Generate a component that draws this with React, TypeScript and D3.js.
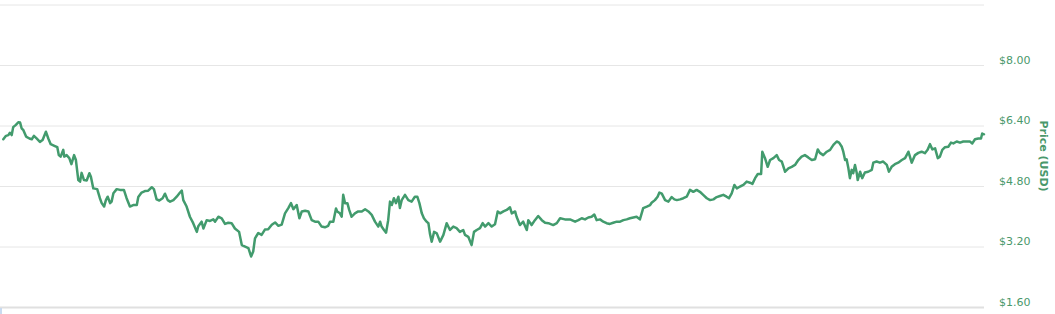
import React from "react";
import * as d3 from "d3";

// Time (days from start of window) of each reading
const days: number[] = [
  1.1, 2, 2.8, 3.3, 3.9, 4.4, 5.3, 6.1, 6.7, 7.2,
  7.8, 8.7, 9.8, 10.6, 11.3, 12.2, 13.3, 14.2, 15.3, 16.1,
  16.9, 18.3, 19.1, 19.6, 20.2, 21.1, 21.4, 22.2, 23.1, 23.8,
  24.7, 25.3, 26.1, 26.7, 27.2, 28, 28.9, 29.8, 30.3, 31.1,
  32.4, 33.3, 33.9, 34.7, 35.3, 35.9, 36.7, 37.2, 37.8, 38.9,
  40, 41.3, 42.2, 43.3, 44.4, 45.6, 46.1, 47.2, 48.3, 49.4,
  50.6, 51.3, 52.2, 53.1, 54.2, 55, 55.9, 56.7, 57.8, 58.9,
  60, 60.6, 61.1, 62.2, 63.3, 64.4, 65.6, 66.1, 67.2, 67.8,
  68.9, 70, 71.1, 71.7, 72.8, 73.9, 75, 76.1, 77.2, 78.3,
  79.7, 80.6, 81.7, 82.8, 83.7, 84.4, 85, 86.1, 87.2, 88.3,
  89.4, 90.6, 91.7, 92.8, 93.9, 95, 96.1, 97, 97.8, 98.9,
  99.8, 100.6, 101.7, 102.8, 103.9, 105, 106.1, 107.2, 108.3, 109.4,
  110, 111.1, 112, 112.4, 113.3, 113.9, 114.4, 115, 115.8, 116.4,
  117.2, 118.3, 119.4, 120.6, 121.7, 122.8, 123.9, 125, 126.1, 126.7,
  127.2, 128, 128.7, 129.4, 130, 130.6, 131.3, 132, 132.8, 133.3,
  133.9, 135, 136.1, 137.2, 138.3, 139.1, 139.8, 140.6, 141.3, 142.2,
  142.8, 143.3, 143.9, 144.7, 145.6, 146.7, 147.8, 148.9, 150, 151.1,
  152.2, 153.3, 154.4, 155, 156.1, 157.2, 158, 158.9, 160, 160.9,
  161.7, 162.8, 163.9, 165, 165.9, 166.7, 167.8, 168.9, 170, 170.6,
  171.7, 172.2, 173.3, 174.4, 175.6, 176.1, 177.2, 178.3, 179.4, 180.6,
  181.7, 182.8, 184.4, 185.6, 186.7, 188.3, 190, 191.7, 192.8, 193.9,
  195, 196.1, 197.2, 198.1, 198.9, 200, 201.1, 202.2, 203.3, 204.4,
  205.6, 206.7, 207.8, 208.9, 210, 211.1, 212.2, 213.3, 214.4, 215.6,
  216.7, 217.2, 218.3, 219.2, 219.8, 220.6, 221.7, 222.8, 223.9, 224.8,
  225.6, 226.7, 227.8, 228.9, 230, 231.1, 232.2, 233.3, 234.4, 235.6,
  236.7, 237.8, 238.9, 240, 241.1, 242.2, 243, 243.9, 244.8, 245.6,
  246.7, 247.8, 248.9, 250, 250.8, 251.7, 252.6, 253.7, 254.1, 255,
  255.9, 256.7, 257.8, 258.9, 259.7, 260.6, 261.7, 262.8, 263.9, 265,
  266.1, 267.2, 268.3, 269.4, 270.6, 271.7, 272.6, 273.3, 274.4, 275.6,
  276.7, 277.8, 278.9, 279.7, 280.6, 281.1, 281.7, 282.2, 282.8, 283.3,
  283.9, 284.4, 285, 285.6, 285.9, 286.7, 287.4, 288.3, 289.4, 290.6,
  291.1, 292.2, 293.3, 294.4, 295.6, 296.3, 297.2, 298.3, 299.4, 300.6,
  301.7, 302.8, 303.9, 305, 306.1, 307.2, 308.3, 309.2, 310, 310.8,
  311.7, 312.6, 313.3, 314.1, 315, 316.1, 317, 317.8, 318.9, 320,
  321.1, 322.2, 323.3, 324.1, 325, 326.1, 327, 327.4, 328,
];

// Price in USD for each reading
const prices: number[] = [
  6.05, 6.14, 6.16, 6.22, 6.16, 6.37, 6.43, 6.50, 6.49, 6.34,
  6.29, 6.12, 6.07, 6.05, 6.14, 6.07, 5.98, 6.03, 6.25, 6.07,
  5.92, 5.87, 5.84, 5.63, 5.59, 5.77, 5.59, 5.63, 5.55, 5.39,
  5.63, 5.50, 4.97, 4.93, 5.16, 4.97, 4.96, 5.15, 5.06, 4.75,
  4.73, 4.49, 4.36, 4.27, 4.44, 4.53, 4.36, 4.40, 4.62, 4.73,
  4.71, 4.71, 4.49, 4.27, 4.31, 4.31, 4.52, 4.64, 4.68, 4.69,
  4.78, 4.73, 4.46, 4.43, 4.49, 4.61, 4.44, 4.40, 4.44, 4.53,
  4.64, 4.69, 4.44, 4.27, 4.00, 3.83, 3.60, 3.75, 3.87, 3.69,
  3.91, 3.89, 3.93, 3.87, 4.00, 3.96, 3.81, 3.84, 3.83, 3.69,
  3.60, 3.25, 3.21, 3.17, 2.95, 3.08, 3.43, 3.57, 3.52, 3.66,
  3.67, 3.79, 3.85, 3.76, 3.79, 4.09, 4.23, 4.36, 4.20, 4.31,
  3.96, 4.14, 4.16, 4.14, 3.91, 3.87, 3.87, 3.74, 3.72, 3.76,
  3.87, 3.87, 4.22, 4.14, 4.09, 4.00, 4.58, 4.36, 4.36, 4.18,
  4.00, 4.09, 4.14, 4.14, 4.20, 4.14, 4.05, 3.87, 3.74, 3.87,
  3.74, 3.65, 3.58, 3.91, 4.40, 4.31, 4.49, 4.36, 4.53, 4.23,
  4.44, 4.58, 4.44, 4.40, 4.53, 4.53, 4.36, 4.09, 3.96, 3.87,
  3.83, 3.56, 3.34, 3.60, 3.56, 3.34, 3.52, 3.83, 3.65, 3.74,
  3.70, 3.60, 3.65, 3.52, 3.47, 3.25, 3.60, 3.65, 3.70, 3.83,
  3.74, 3.83, 3.74, 3.80, 4.14, 4.09, 4.14, 4.18, 4.25, 4.09,
  4.14, 4.00, 3.78, 3.87, 3.65, 3.91, 3.78, 3.91, 4.02, 3.91,
  3.84, 3.83, 3.78, 3.83, 3.96, 3.93, 3.93, 3.87, 3.91, 3.96,
  3.93, 3.98, 4.00, 4.06, 3.91, 3.93, 3.87, 3.83, 3.81, 3.84,
  3.87, 3.87, 3.91, 3.93, 3.96, 3.98, 4.00, 3.93, 4.23, 4.27,
  4.31, 4.37, 4.44, 4.53, 4.64, 4.61, 4.44, 4.40, 4.52, 4.46,
  4.44, 4.46, 4.49, 4.53, 4.71, 4.66, 4.71, 4.66, 4.58, 4.49,
  4.44, 4.46, 4.52, 4.55, 4.58, 4.53, 4.49, 4.62, 4.84, 4.75,
  4.80, 4.84, 4.93, 4.90, 4.87, 5.02, 5.13, 5.13, 5.72, 5.55,
  5.32, 5.50, 5.55, 5.63, 5.50, 5.46, 5.19, 5.28, 5.32, 5.37,
  5.50, 5.59, 5.63, 5.57, 5.50, 5.52, 5.78, 5.69, 5.63, 5.72,
  5.77, 5.90, 5.99, 5.96, 5.85, 5.72, 5.50, 5.52, 5.28, 5.02,
  5.24, 5.15, 5.37, 5.15, 4.97, 5.19, 5.02, 5.17, 5.19, 5.24,
  5.43, 5.46, 5.43, 5.46, 5.37, 5.19, 5.32, 5.39, 5.43, 5.50,
  5.55, 5.72, 5.43, 5.63, 5.69, 5.72, 5.68, 5.77, 5.92, 5.78,
  5.81, 5.55, 5.59, 5.77, 5.84, 5.85, 5.96, 5.94, 5.99, 5.96,
  5.99, 5.99, 5.99, 5.94, 6.05, 6.07, 6.07, 6.20, 6.18,
];

const gridTicks: number[] = [1.6, 3.2, 4.8, 6.4, 8.0, 9.6];
const labelTicks: number[] = [1.6, 3.2, 4.8, 6.4, 8.0];
const yTitle = "Price (USD)";

const W = 1055;
const H = 314;
const plotLeft = 0;
const plotRight = 984;
const plotTop = 5;
const plotBottom = 307.5;

const LINE = "#429b6d";
const TEXT = "#4a986b";

export default function App() {
  const x = d3.scaleLinear().domain([0, 328]).range([plotLeft, plotRight]);
  const y = d3.scaleLinear().domain([1.6, 9.6]).range([plotBottom, plotTop]);
  const idx = d3.range(Math.min(days.length, prices.length));
  const line = d3
    .line<number>()
    .x((i) => x(days[i]))
    .y((i) => y(prices[i]))
    .curve(d3.curveLinear);
  const fmt = (v: number) => "$" + d3.format(".2f")(v);

  return (
    <svg
      width={W}
      height={H}
      style={{ position: "absolute", left: 0, top: 0, display: "block" }}
      fontFamily="'DejaVu Sans', Verdana, sans-serif"
    >
      <rect x={0} y={0} width={W} height={H} fill="#ffffff" />
      {gridTicks.map((t) =>
        t === 1.6 ? null : (
          <line
            key={t}
            x1={plotLeft}
            x2={plotRight}
            y1={y(t)}
            y2={y(t)}
            stroke="#e6e6e6"
            strokeWidth={1}
          />
        )
      )}
      <line
        x1={plotLeft}
        x2={plotRight}
        y1={y(1.6)}
        y2={y(1.6)}
        stroke="#e0e0e0"
        strokeWidth={2}
      />
      <rect x={0} y={308} width={2} height={6} fill="#c9daf0" />
      <path
        d={line(idx) || ""}
        fill="none"
        stroke={LINE}
        strokeWidth={2.5}
        strokeLinejoin="round"
        strokeLinecap="round"
      />
      {labelTicks.map((t) => (
        <text
          key={t}
          x={999}
          y={y(t) - 2}
          fontSize={11}
          fill={TEXT}
          textAnchor="start"
        >
          {fmt(t)}
        </text>
      ))}
      <text
        transform={`translate(1039.5, 156) rotate(90)`}
        textAnchor="middle"
        fontSize={11}
        fontWeight="bold"
        fill={TEXT}
      >
        {yTitle}
      </text>
    </svg>
  );
}
